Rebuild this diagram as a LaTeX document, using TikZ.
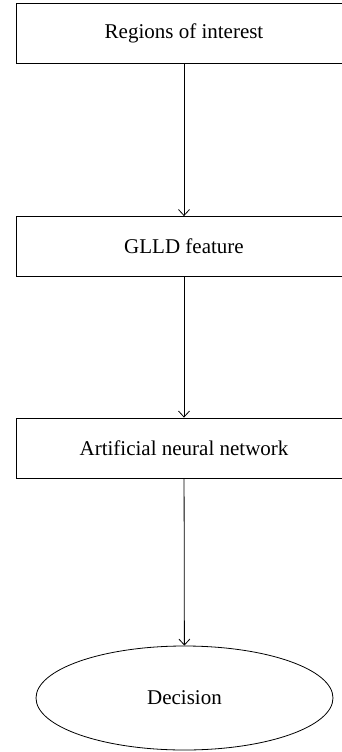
\documentclass[tikz,border=0pt]{standalone}
\usepackage{fontspec}
\setmainfont{Liberation Serif}
\usetikzlibrary{shapes.geometric,arrows.meta}

\begin{document}
\begin{tikzpicture}[x=1pt,y=1pt,
  stagebox/.style={draw, line width=0.8pt, minimum width=336pt, minimum height=60pt, inner sep=0pt},
  endoval/.style={draw, ellipse, line width=0.8pt, minimum width=297pt, minimum height=104pt, inner sep=0pt},
  flow/.style={line width=0.8pt, -{Straight Barb[length=6pt,width=11pt]}},
  font=\fontsize{21}{24}\selectfont]
\useasboundingbox (0,0) rectangle (341,-752);
\node[stagebox] (Roi) at (184,-33.5) {Regions of interest};
\node[stagebox] (Glld) at (184,-246.5) {GLLD feature};
\node[stagebox] (Ann) at (184,-448) {Artificial neural network};
\node[endoval] (Decision) at (184.5,-698) {Decision};
\draw[flow] (Roi) -- (Glld);
\draw[flow] (Glld) -- (Ann);
\draw[flow] (Ann) -- (Decision);
\end{tikzpicture}
\end{document}
